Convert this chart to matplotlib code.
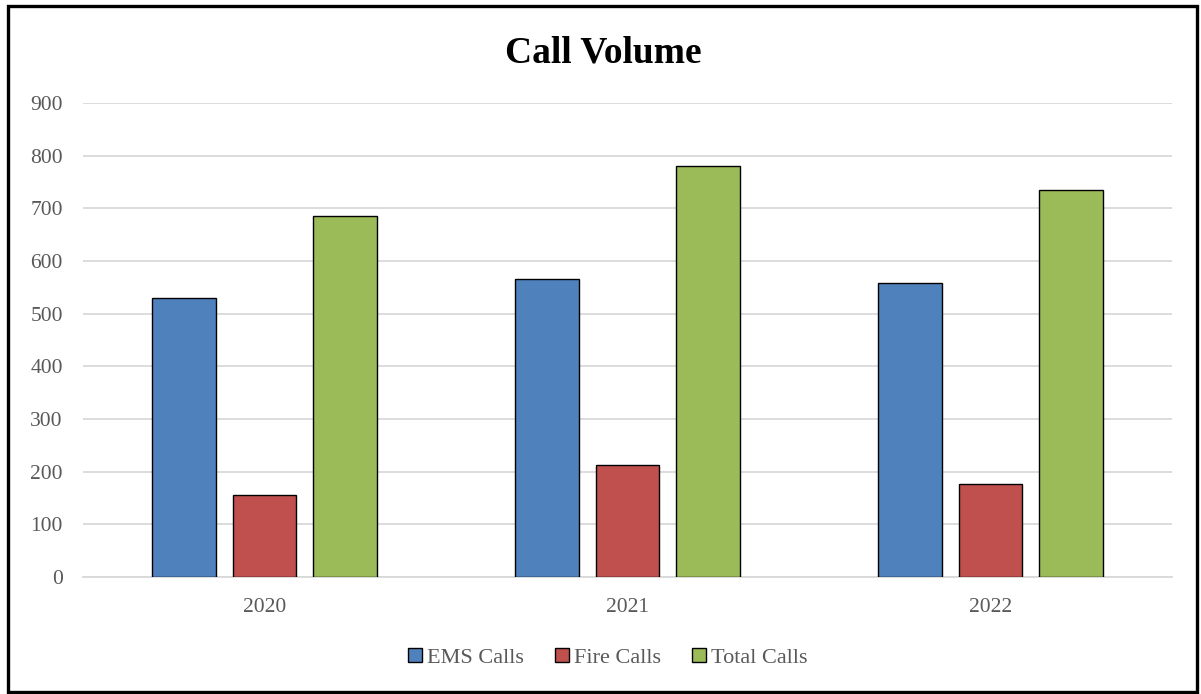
import matplotlib
matplotlib.use("Agg")
import matplotlib.pyplot as plt
from matplotlib.patches import Rectangle
import numpy as np

years = ["2020", "2021", "2022"]
series_names = ["EMS Calls", "Fire Calls", "Total Calls"]
ems_calls = [530, 566, 558]
fire_calls = [155, 213, 176]
total_calls = [685, 781, 734]
colors = ["#4f81bd", "#c0504d", "#9bbb59"]
yticks = [0, 100, 200, 300, 400, 500, 600, 700, 800, 900]

plt.rcParams['font.family'] = ['Liberation Serif', 'DejaVu Serif']

W, H = 1201, 694
fig = plt.figure(figsize=(W / 100, H / 100), dpi=100)
ax = fig.add_axes([83 / W, 1 - 577 / H, (1172 - 83) / W, (577 - 103) / H])

x = np.arange(len(years))
width = 0.176
offset = 0.222
for i, (vals, name, c) in enumerate(zip([ems_calls, fire_calls, total_calls], series_names, colors)):
    ax.bar(x + (i - 1) * offset, vals, width, color=c, edgecolor="black",
           linewidth=1.0, label=name, zorder=3)

ax.set_xlim(-0.5, 2.5)
ax.set_ylim(0, 900)
ax.set_yticks(yticks)
ax.set_xticks(x)
ax.set_xticklabels(years)
ax.grid(axis="y", color="#d9d9d9", linewidth=1.3, zorder=0)
for s in ["top", "right", "left"]:
    ax.spines[s].set_visible(False)
ax.spines["bottom"].set_color("#d9d9d9")
ax.spines["bottom"].set_linewidth(1.3)
ax.tick_params(axis="both", length=0, labelsize=15.5, labelcolor="#595959")
ax.tick_params(axis="y", pad=14.5)
ax.tick_params(axis="x", pad=15)

fig.text(603 / W, 1 - 53 / H, "Call Volume", ha="center", va="center",
         fontsize=27, fontweight="bold", color="black")

leg = fig.legend(loc="center", bbox_to_anchor=(608 / W, 1 - 658 / H), ncol=3,
                 frameon=False, fontsize=16, handlelength=0.6, handleheight=0.6,
                 handletextpad=0.25, columnspacing=1.4, labelcolor="#595959")

fig.patches.append(Rectangle((8 / W, 1 - 692 / H), (1197 - 8) / W, (692 - 6) / H,
                             transform=fig.transFigure, fill=False,
                             edgecolor="black", linewidth=2.4))

fig.savefig("out.png", dpi=100)
